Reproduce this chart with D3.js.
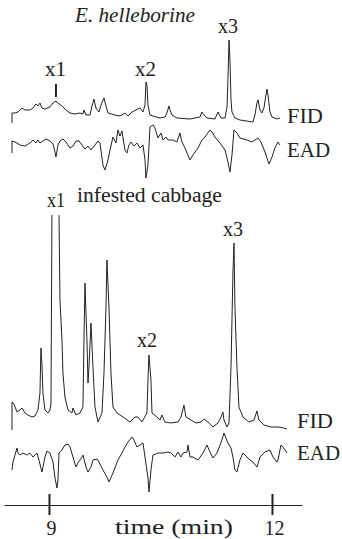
<!DOCTYPE html>
<html>
<head>
<meta charset="utf-8">
<script src="https://cdn.jsdelivr.net/npm/d3@7"></script>
<style>
  body { margin: 0; background: #fff; }
  svg { display: block; }
</style>
</head>
<body>
<svg id="chart" width="342" height="539"></svg>
<script>
// retention time (min), response (arbitrary units)
const fidTop = [
  [8.502, 2], [8.503, 12], [8.543, 12], [8.583, 13], [8.637, 17], [8.677, 15], [8.744, 15],
  [8.785, 17], [8.825, 21], [8.852, 19], [8.879, 22], [8.906, 17], [8.946, 16], [9.013, 18],
  [9.054, 22], [9.094, 24], [9.121, 22], [9.175, 19], [9.229, 15], [9.283, 12], [9.350, 11],
  [9.417, 12], [9.457, 11], [9.471, 15], [9.498, 10], [9.552, 10], [9.579, 19], [9.605, 26],
  [9.632, 17], [9.673, 13], [9.700, 20], [9.740, 27], [9.767, 19], [9.794, 12], [9.888, 10],
  [9.955, 9], [10.022, 12], [10.063, 9], [10.117, 13], [10.170, 15], [10.224, 17], [10.265, 13],
  [10.292, 20], [10.305, 43], [10.318, 40], [10.332, 20], [10.359, 10], [10.399, 9], [10.493, 7],
  [10.560, 8], [10.587, 12], [10.614, 19], [10.628, 15], [10.655, 10], [10.722, 7], [10.897, 6],
  [11.031, 8], [11.058, 13], [11.099, 9], [11.126, 7], [11.233, 6], [11.274, 13], [11.314, 7],
  [11.368, 7], [11.395, 18], [11.408, 45], [11.422, 85], [11.435, 65], [11.449, 25], [11.462, 13],
  [11.502, 7], [11.569, 5], [11.744, 3], [11.771, 10], [11.798, 22], [11.812, 25], [11.839, 15],
  [11.866, 12], [11.892, 17], [11.919, 30], [11.933, 36], [11.946, 30], [11.973, 13], [12.000, 8],
  [12.067, 6], [12.108, 7]
];

const eadTop = [
  [8.502, -8], [8.503, 4], [8.543, 3], [8.610, 0], [8.677, -1], [8.744, 2], [8.785, 5],
  [8.825, 2], [8.852, 5], [8.879, 2], [8.919, 4], [8.960, 6], [9.013, 4], [9.054, 1],
  [9.081, -7], [9.094, -12], [9.121, 0], [9.148, 4], [9.188, 6], [9.229, 3], [9.283, -3],
  [9.323, -1], [9.363, 4], [9.404, 4], [9.444, 0], [9.484, -4], [9.525, -1], [9.565, -5],
  [9.619, 0], [9.659, 4], [9.686, 2], [9.726, -20], [9.753, -25], [9.794, -15], [9.821, -5],
  [9.861, 8], [9.901, 2], [9.928, 15], [9.955, 9], [9.982, 14], [10.022, -5], [10.049, -8],
  [10.076, 0], [10.103, 3], [10.143, -1], [10.184, 2], [10.224, -3], [10.265, 0], [10.292, -15],
  [10.305, -33], [10.332, -20], [10.359, 18], [10.399, 20], [10.426, 17], [10.466, 7], [10.507, 12],
  [10.534, 5], [10.574, 8], [10.601, 5], [10.668, 5], [10.722, 3], [10.762, 12], [10.789, 3],
  [10.830, -3], [10.897, -15], [10.937, -10], [11.005, -3], [11.058, 5], [11.099, 8], [11.166, 15],
  [11.193, 13], [11.233, 8], [11.300, 2], [11.368, -5], [11.408, -17], [11.435, -27], [11.462, -10],
  [11.489, 15], [11.529, 12], [11.569, 7], [11.664, 5], [11.731, 3], [11.771, 5], [11.812, 7],
  [11.852, 3], [11.906, -7], [11.960, -19], [12.000, -12], [12.040, -3], [12.081, 3], [12.108, 0]
];

const fidBottom = [
  [8.502, 0], [8.503, 28], [8.529, 26], [8.570, 18], [8.610, 20], [8.637, 22], [8.677, 17],
  [8.717, 15], [8.771, 13], [8.812, 14], [8.852, 20], [8.879, 37], [8.892, 82], [8.906, 65],
  [8.919, 37], [8.946, 20], [8.987, 17], [9.013, 20], [9.027, 26], [9.040, 215], [9.047, 330],
  [9.128, 330], [9.135, 215], [9.148, 130], [9.175, 90], [9.188, 57], [9.215, 33], [9.256, 20],
  [9.309, 17], [9.323, 22], [9.363, 15], [9.417, 17], [9.457, 23], [9.471, 90], [9.484, 147],
  [9.511, 90], [9.525, 47], [9.538, 63], [9.565, 107], [9.592, 63], [9.619, 23], [9.659, 8],
  [9.713, 17], [9.740, 57], [9.767, 123], [9.780, 170], [9.807, 123], [9.834, 57], [9.861, 23],
  [9.915, 17], [9.996, 13], [10.090, 8], [10.157, 13], [10.197, 13], [10.251, 8], [10.318, 17],
  [10.332, 50], [10.345, 75], [10.372, 50], [10.386, 17], [10.453, 13], [10.493, 10], [10.520, 15],
  [10.560, 8], [10.641, 7], [10.735, 8], [10.776, 13], [10.816, 25], [10.843, 13], [10.910, 10],
  [10.978, 7], [11.045, 8], [11.085, 11], [11.139, 8], [11.206, 3], [11.274, 7], [11.314, 13],
  [11.341, 18], [11.354, 10], [11.395, 3], [11.422, 7], [11.449, 63], [11.475, 157], [11.489, 187],
  [11.502, 123], [11.529, 63], [11.556, 23], [11.610, 13], [11.690, 8], [11.758, 10], [11.798, 19],
  [11.825, 10], [11.892, 5], [11.987, 3], [12.081, 3], [12.161, 2], [12.202, 1]
];

const eadBottom = [
  [8.502, -15], [8.516, -7], [8.570, 7], [8.583, 2], [8.610, 0], [8.650, 2], [8.704, 0],
  [8.744, 2], [8.785, -2], [8.838, 2], [8.865, -5], [8.906, -17], [8.946, -2], [8.973, 4],
  [9.013, 2], [9.054, -7], [9.081, -23], [9.108, -33], [9.121, -25], [9.135, 2], [9.175, 5],
  [9.215, 10], [9.256, 11], [9.283, 8], [9.323, -2], [9.363, -12], [9.390, -8], [9.444, -2],
  [9.457, 0], [9.498, -12], [9.525, -17], [9.565, -12], [9.592, -5], [9.646, -4], [9.673, -7],
  [9.726, -15], [9.780, -22], [9.807, -27], [9.861, -18], [9.928, -5], [9.982, 2], [10.022, 8],
  [10.063, 13], [10.117, 18], [10.143, 15], [10.184, 8], [10.224, 10], [10.265, 12], [10.292, -2],
  [10.332, -23], [10.345, -37], [10.372, -15], [10.399, 0], [10.466, 2], [10.534, 2], [10.601, 3],
  [10.641, 2], [10.695, -2], [10.735, 3], [10.776, -2], [10.803, 2], [10.857, 3], [10.870, 10],
  [10.897, -2], [10.937, -2], [11.005, -5], [11.072, 2], [11.126, 10], [11.166, 3], [11.206, -3],
  [11.260, 2], [11.327, 15], [11.354, 22], [11.408, 12], [11.449, 7], [11.475, -2], [11.502, -15],
  [11.529, -17], [11.569, -5], [11.610, 2], [11.664, -2], [11.704, -5], [11.744, -7], [11.798, -12],
  [11.839, -2], [11.906, 3], [11.973, 5], [12.013, -2], [12.067, -7], [12.081, -5], [12.121, 10],
  [12.148, 8], [12.202, 2]
];

const sampleTitles = ["E. helleborine", "infested cabbage"];
const peakNames = ["x1", "x2", "x3"];
const peakTimesTop = [9.094, 10.305, 11.422];
const peakTimesBottom = [9.08, 10.345, 11.489];
const traceNames = ["FID", "EAD"];
const tickValues = [9, 12];
const axisTitle = "time (min)";

const svg = d3.select('#chart');
const ink = '#222';
const serif = '"Liberation Serif", "Times New Roman", serif';

let x = d3.scaleLinear().domain([8.395, 12.404]).range([4, 302]);

// one y scale per trace
let yFidTop = d3.scaleLinear().domain([0, 85]).range([125, 40]);
let yEadTop = d3.scaleLinear().domain([-35, 20]).range([180, 125]);
let yFidBot = d3.scaleLinear().domain([0, 215]).range([430, 215]);
let yEadBot = d3.scaleLinear().domain([-40, 25]).range([495, 430]);

svg.append('clipPath').attr('id', 'clipBot')
    .append('rect').attr('x', 0).attr('y', 215).attr('width', 342).attr('height', 324);

function trace(data, y, clip) {
    let line = d3.line().x(d => x(d[0])).y(d => y(d[1]));
    let p = svg.append('path')
        .attr('d', line(data))
        .attr('fill', 'none')
        .attr('stroke', ink)
        .attr('stroke-width', 1)
        .attr('stroke-linejoin', 'round');
    if (clip) p.attr('clip-path', 'url(#clipBot)');
}

trace(fidTop, yFidTop);
trace(eadTop, yEadTop);
trace(fidBottom, yFidBot, true);
trace(eadBottom, yEadBot);

function label(txt, x0, y0, w, opts) {
    let t = svg.append('text')
        .attr('x', x0).attr('y', y0)
        .attr('font-family', serif)
        .attr('font-size', 20)
        .attr('fill', ink)
        .attr('textLength', w)
        .attr('lengthAdjust', 'spacingAndGlyphs')
        .text(txt);
    if (opts && opts.italic) t.attr('font-style', 'italic');
    return t;
}

label(sampleTitles[0], 75, 22, 120, { italic: true });
label(sampleTitles[1], 77, 202, 145);

// peak labels, top run
label(peakNames[0], x(peakTimesTop[0]) - 11, 76, 21);
label(peakNames[1], x(peakTimesTop[1]) - 11, 76, 21);
label(peakNames[2], x(peakTimesTop[2]) - 11, 33, 20);

// marker under top x1
svg.append('line')
    .attr('x1', x(peakTimesTop[0])).attr('x2', x(peakTimesTop[0]))
    .attr('y1', 84).attr('y2', 97)
    .attr('stroke', ink).attr('stroke-width', 2);

// peak labels, bottom run
label(peakNames[0], x(peakTimesBottom[0]) - 8, 207, 18);
label(peakNames[1], x(peakTimesBottom[1]) - 12, 347, 20);
label(peakNames[2], x(peakTimesBottom[2]) - 11, 236, 20);

label(traceNames[0], 287, 123, 36);
label(traceNames[1], 287, 157, 43);
label(traceNames[0], 297, 428, 36);
label(traceNames[1], 297, 460, 43);

// time axis
let axis = svg.append('g')
    .attr('transform', 'translate(0,505)')
    .call(d3.axisBottom(x).tickValues(tickValues).tickFormat(d3.format('d'))
        .tickSize(10).tickSizeOuter(0).tickPadding(6));
axis.select('.domain').attr('stroke', ink).attr('stroke-width', 1);
axis.selectAll('.tick line').attr('y1', -11).attr('stroke', ink).attr('stroke-width', 2);
axis.selectAll('.tick text')
    .attr('font-family', serif)
    .attr('font-size', 20).attr('fill', ink)
    .attr('dx', 2);

label(axisTitle, 115, 534, 118);
</script>
</body>
</html>
